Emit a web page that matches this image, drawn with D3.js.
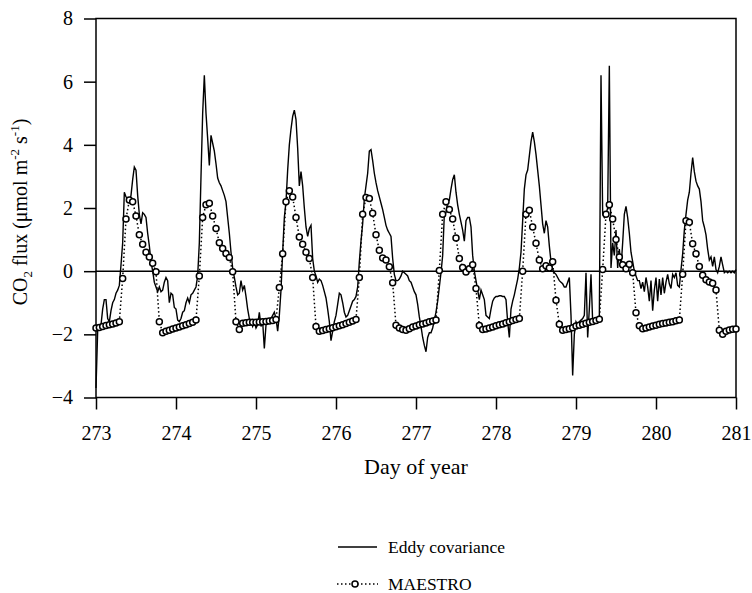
<!DOCTYPE html>
<html lang="en">
<head>
<meta charset="UTF-8">
<title>CO2 flux</title>
<script src="https://cdn.jsdelivr.net/npm/d3@7/dist/d3.min.js"></script>
<style>
  body { margin: 0; background: #fff; }
  svg text { font-family: "Liberation Serif", "Times New Roman", serif; fill: #000; }
</style>
</head>
<body>
<svg width="752" height="593"></svg>
<script>
// day of year, one entry per data block (the last block holds the single point at 281.0)
var days = [273, 274, 275, 276, 277, 278, 279, 280, 281];

// eddy covariance, half-hourly values (umol m-2 s-1)
var eddy273 = [-3.7,-1.9,-1.75,-1.7,-1.2,-0.9,-0.9,-1.5,-1.6,-1.25,-1.0,-0.9,-0.7,-0.6,-0.45,0.2,0.9,2.5,2.35,2.3,2.2,2.4,2.9,3.3,3.2,2.4,1.8,1.5,1.85,1.8,1.7,1.2,0.8,0.3,0.0,-0.35,-0.5,-0.65,-0.5,-0.65,-0.6,-0.35,-0.2,-0.3,-1.0,-0.7,-0.75,-1.15];
var eddy274 = [-1.2,-1.55,-1.6,-1.5,-1.3,-1.25,-1.0,-0.85,-1.0,-0.75,-0.7,-0.6,-0.5,-0.15,0.9,3.0,5.0,6.2,5.0,4.2,3.35,4.3,4.05,3.8,3.4,2.95,2.8,2.7,2.55,2.4,2.2,1.7,1.2,0.6,0.1,-0.2,-0.5,-0.75,-0.7,-0.3,-0.6,-0.45,-0.8,-1.2,-1.5,-1.6,-1.75,-1.6];
var eddy275 = [-1.8,-1.7,-1.3,-1.75,-1.6,-2.45,-1.7,-1.6,-1.55,-1.5,-1.4,-1.3,-1.5,-1.9,-1.4,-0.6,0.6,1.7,2.2,3.2,4.0,4.5,4.9,5.1,4.8,3.9,2.7,3.15,2.7,2.0,1.4,1.1,1.35,1.45,0.4,0.0,-0.15,-0.35,-0.25,-0.3,-0.45,-0.65,-0.85,-1.2,-1.6,-2.2,-1.9,-1.6];
var eddy276 = [-1.4,-1.05,-0.7,-0.75,-1.0,-1.3,-1.45,-1.4,-1.25,-1.1,-0.95,-0.9,-0.8,-0.5,0.3,0.95,1.5,2.3,2.7,3.1,3.8,3.85,3.5,3.1,2.8,2.55,2.35,2.15,1.95,1.7,1.45,1.3,1.2,1.1,0.4,-0.1,-0.3,-0.3,-0.25,-0.15,0.0,-0.05,-0.1,-0.15,-0.3,-0.35,-0.5,-0.65];
var eddy277 = [-0.75,-1.05,-1.45,-1.75,-2.1,-2.35,-2.55,-2.1,-1.95,-1.95,-1.8,-1.55,-1.3,-0.95,-0.5,-0.05,0.5,1.8,1.85,2.2,2.25,2.6,2.9,3.05,2.5,2.1,1.8,1.55,1.3,0.95,1.6,1.7,1.7,1.4,0.5,0.0,-0.3,-0.6,-0.9,-0.6,-0.75,-0.9,-1.4,-1.45,-1.5,-1.2,-0.95,-0.85];
var eddy278 = [-0.8,-0.8,-0.78,-0.78,-0.8,-0.8,-0.9,-1.6,-2.1,-1.2,-0.95,-0.75,-0.5,-0.25,0.1,0.6,1.6,2.6,3.05,3.2,3.65,4.1,4.4,4.1,3.7,3.2,2.7,2.1,1.5,1.2,1.6,1.4,0.8,0.3,0.05,-0.05,-0.1,-0.2,-0.3,-0.35,-0.4,-0.5,-0.5,-0.35,-0.2,-1.4,-3.3,-2.0];
var eddy279 = [-1.6,-1.7,-1.6,-1.55,-1.5,-1.4,-0.05,-2.1,-1.2,-0.1,-1.6,-1.55,-1.6,-1.55,-1.5,6.2,1.8,1.7,1.8,2.0,6.5,0.1,0.9,0.5,1.3,0.1,0.7,0.1,0.9,1.8,2.05,1.7,1.2,0.6,0.3,0.0,-0.15,-0.3,-0.3,-0.55,-0.35,-0.65,-0.2,-0.5,-0.95,-0.3,-1.25,-0.6];
var eddy280 = [-0.2,-0.95,-0.25,-0.75,-0.2,-0.7,-0.35,-0.1,-0.4,-0.55,-0.1,-0.2,-0.05,-0.45,-0.5,0.05,0.55,1.3,1.8,2.25,2.5,3.1,3.6,3.15,2.85,2.7,2.6,2.2,1.6,1.4,1.15,0.7,0.35,0.45,0.15,0.45,0.05,-0.05,0.15,0.45,0.2,-0.05,0.0,-0.05,0.0,-0.05,0.0,-0.05];
var eddy281 = [0.05];

// MAESTRO model, hourly values
var maestro273 = [-1.8,-1.78,-1.75,-1.72,-1.7,-1.67,-1.64,-1.6,-0.23,1.65,2.25,2.2,1.75,1.15,0.85,0.6,0.45,0.25,-0.02,-1.6,-1.95,-1.9,-1.87,-1.83];
var maestro274 = [-1.8,-1.77,-1.73,-1.7,-1.66,-1.62,-1.55,-0.15,1.7,2.1,2.15,1.75,1.35,0.9,0.72,0.56,0.43,-0.02,-1.6,-1.85,-1.65,-1.63,-1.62,-1.62];
var maestro275 = [-1.62,-1.61,-1.6,-1.59,-1.58,-1.56,-1.53,-0.52,0.55,2.2,2.55,2.35,1.7,1.08,0.85,0.6,0.4,-0.2,-1.75,-1.9,-1.88,-1.85,-1.82,-1.79];
var maestro276 = [-1.76,-1.73,-1.7,-1.66,-1.62,-1.58,-1.53,-0.2,1.8,2.33,2.3,1.83,1.15,0.66,0.42,0.35,0.14,-0.37,-1.71,-1.8,-1.85,-1.87,-1.82,-1.77];
var maestro277 = [-1.74,-1.7,-1.67,-1.64,-1.6,-1.58,-1.55,0.02,1.8,2.2,1.95,1.65,1.05,0.4,0.12,-0.03,0.08,0.2,-0.55,-1.72,-1.85,-1.83,-1.8,-1.77];
var maestro278 = [-1.73,-1.7,-1.67,-1.63,-1.6,-1.56,-1.53,-1.5,0.0,1.8,1.93,1.4,0.88,0.35,0.08,0.17,0.1,0.3,-0.92,-1.68,-1.87,-1.85,-1.82,-1.79];
var maestro279 = [-1.74,-1.71,-1.68,-1.65,-1.62,-1.59,-1.56,-1.52,0.05,1.8,2.1,1.65,1.0,0.45,0.2,0.08,0.22,-0.05,-1.32,-1.73,-1.82,-1.8,-1.77,-1.74];
var maestro280 = [-1.71,-1.68,-1.66,-1.64,-1.62,-1.6,-1.57,-1.55,-0.1,1.6,1.55,0.87,0.55,0.15,-0.13,-0.27,-0.34,-0.38,-0.6,-1.87,-2.0,-1.9,-1.86,-1.84];
var maestro281 = [-1.83];

var xTicks = [273, 274, 275, 276, 277, 278, 279, 280, 281];
var yTicks = [-4, -2, 0, 2, 4, 6, 8];
var legendLabels = ["Eddy covariance", "MAESTRO"];

var eddyBlocks = [eddy273, eddy274, eddy275, eddy276, eddy277, eddy278, eddy279, eddy280, eddy281];
var maestroBlocks = [maestro273, maestro274, maestro275, maestro276, maestro277, maestro278, maestro279, maestro280, maestro281];

// turn per-day blocks into {t, v} points, perDay = samples per day
function toSeries(blocks, perDay) {
    var out = [];
    blocks.forEach(function(vals, i) {
        vals.forEach(function(v, k) {
            out.push({t: days[i] + k / perDay, v: v});
        });
    });
    return out;
}
var eddy = toSeries(eddyBlocks, 48);
var maestro = toSeries(maestroBlocks, 24);

var svg = d3.select("svg");
// plot box (note: "top" is a reserved window property, so use other names)
var plotL = 96, plotR = 736, plotT = 18.5, plotB = 397.5;

var x = d3.scaleLinear().domain([273, 281]).range([plotL, plotR]);
var y = d3.scaleLinear().domain([-4, 8]).range([plotB, plotT]);

// axes
var xAxis = svg.append("g")
    .attr("transform", "translate(0," + plotB + ")")
    .call(d3.axisBottom(x).tickValues(xTicks).tickFormat(d3.format("d")).tickSize(12).tickPadding(16));
var yAxis = svg.append("g")
    .attr("transform", "translate(" + plotL + ",0)")
    .call(d3.axisLeft(y).tickValues(yTicks).tickSize(12).tickPadding(11));
[xAxis, yAxis].forEach(function(g) {
    g.select(".domain").remove();
    g.selectAll(".tick line").attr("stroke", "#000").attr("stroke-width", 1.5);
    g.selectAll(".tick text").attr("font-size", 20).attr("font-family", null);
});

// frame and zero line
svg.append("rect")
    .attr("x", plotL).attr("y", plotT)
    .attr("width", plotR - plotL).attr("height", plotB - plotT)
    .attr("fill", "none").attr("stroke", "#000").attr("stroke-width", 1.5);
svg.append("line")
    .attr("x1", plotL).attr("x2", plotR)
    .attr("y1", y(0)).attr("y2", y(0))
    .attr("stroke", "#000").attr("stroke-width", 1.5);

// eddy covariance line
var line = d3.line().x(function(d) { return x(d.t); }).y(function(d) { return y(d.v); });
svg.append("path")
    .datum(eddy)
    .attr("d", line)
    .attr("fill", "none").attr("stroke", "#000").attr("stroke-width", 1.4)
    .attr("stroke-linejoin", "miter");

// MAESTRO dotted line + open circles
svg.append("path")
    .datum(maestro)
    .attr("d", line)
    .attr("fill", "none").attr("stroke", "#000").attr("stroke-width", 1.5)
    .attr("stroke-dasharray", "1.5,2.5");
svg.append("g").selectAll("circle")
    .data(maestro)
    .enter().append("circle")
    .attr("cx", function(d) { return x(d.t); })
    .attr("cy", function(d) { return y(d.v); })
    .attr("r", 3)
    .attr("fill", "#fff").attr("stroke", "#000").attr("stroke-width", 1.5);

// axis titles
svg.append("text")
    .attr("x", (plotL + plotR) / 2).attr("y", 474)
    .attr("text-anchor", "middle").attr("font-size", 22)
    .text("Day of year");

var yt = svg.append("text")
    .attr("transform", "translate(27,212) rotate(-90)")
    .attr("text-anchor", "middle").attr("font-size", 20);
yt.append("tspan").text("CO");
yt.append("tspan").attr("font-size", 13).attr("dy", 5).text("2");
yt.append("tspan").attr("dy", -5).text(" flux (\u03bcmol m");
yt.append("tspan").attr("font-size", 13).attr("dy", -8).text("-2");
yt.append("tspan").attr("dy", 8).text(" s");
yt.append("tspan").attr("font-size", 13).attr("dy", -8).text("-1");
yt.append("tspan").attr("dy", 8).text(")");

// legend
var lg = svg.append("g");
lg.append("line")
    .attr("x1", 338).attr("x2", 377).attr("y1", 547).attr("y2", 547)
    .attr("stroke", "#000").attr("stroke-width", 1.4);
lg.append("text").attr("x", 388).attr("y", 553).attr("font-size", 17.5).text(legendLabels[0]);
lg.append("line")
    .attr("x1", 337).attr("x2", 378).attr("y1", 584).attr("y2", 584)
    .attr("stroke", "#000").attr("stroke-width", 1.5).attr("stroke-dasharray", "1.5,2.5");
lg.append("circle")
    .attr("cx", 355).attr("cy", 584).attr("r", 3)
    .attr("fill", "#fff").attr("stroke", "#000").attr("stroke-width", 1.5);
lg.append("text").attr("x", 388).attr("y", 590).attr("font-size", 17.5).text(legendLabels[1]);
</script>
</body>
</html>
